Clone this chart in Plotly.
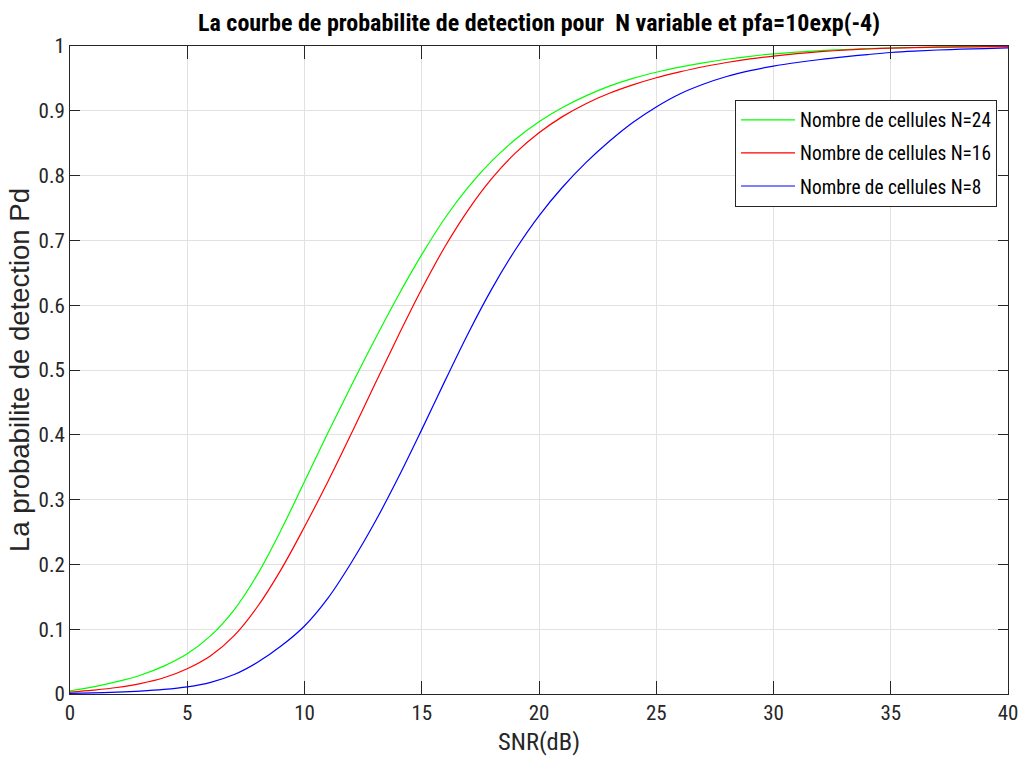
import plotly.graph_objects as go

snr_db = list(range(0, 41))

pd_n24 = [0.005, 0.011, 0.019, 0.029, 0.043, 0.062, 0.090, 0.130, 0.185, 0.253, 0.328,
          0.403, 0.476, 0.547, 0.615, 0.678, 0.735, 0.783, 0.823, 0.856, 0.883,
          0.905, 0.923, 0.938, 0.950, 0.9595, 0.9673, 0.9739, 0.9795, 0.9841, 0.9879,
          0.9907, 0.9929, 0.9946, 0.9959, 0.9969, 0.9977, 0.9983, 0.9987, 0.9990, 0.9992]

pd_n16 = [0.003, 0.006, 0.010, 0.016, 0.025, 0.039, 0.059, 0.090, 0.135, 0.192, 0.258,
          0.328, 0.402, 0.478, 0.553, 0.625, 0.691, 0.748, 0.796, 0.835, 0.866,
          0.891, 0.911, 0.927, 0.940, 0.951, 0.960, 0.968, 0.9745, 0.980, 0.9845,
          0.9882, 0.9912, 0.9936, 0.9954, 0.9967, 0.9976, 0.9982, 0.9986, 0.9989, 0.9991]

pd_n8 = [0.001, 0.0018, 0.0029, 0.0045, 0.007, 0.011, 0.018, 0.030, 0.049, 0.074, 0.105,
         0.148, 0.203, 0.265, 0.334, 0.408, 0.484, 0.558, 0.626, 0.686, 0.738,
         0.782, 0.820, 0.853, 0.882, 0.906, 0.926, 0.941, 0.953, 0.962, 0.969,
         0.9745, 0.9792, 0.9832, 0.9868, 0.9900, 0.9922, 0.9938, 0.9951, 0.9961, 0.9970]

series_names = ["Nombre de cellules N=24", "Nombre de cellules N=16", "Nombre de cellules N=8"]
series_values = [pd_n24, pd_n16, pd_n8]
series_colors = ["#00FF00", "#FF0000", "#0000FF"]

x_ticks = [0, 5, 10, 15, 20, 25, 30, 35, 40]
y_ticks = [0, 0.1, 0.2, 0.3, 0.4, 0.5, 0.6, 0.7, 0.8, 0.9, 1]
y_tick_labels = ["0", "0.1", "0.2", "0.3", "0.4", "0.5", "0.6", "0.7", "0.8", "0.9", "1"]

NARROW = "Liberation Sans Narrow, Arial Narrow, Roboto Condensed, sans-serif"
AXC = "#262626"
GRID = "#e1e1e1"

fig = go.Figure()
for i, (name, vals, col) in enumerate(zip(series_names, series_values, series_colors)):
    fig.add_trace(go.Scatter(
        x=snr_db, y=vals, mode="lines", name=name, legendgroup=f"g{i}",
        line=dict(color=col, width=1.2, shape="spline", smoothing=1.0),
    ))

fig.update_layout(
    width=1021, height=771,
    paper_bgcolor="white", plot_bgcolor="white",
    margin=dict(l=70, r=13, t=46, b=77, autoexpand=False),
    title=dict(
        text="<b>La courbe de probabilite de detection pour  N variable et pfa=10exp(-4)</b>",
        x=539 / 1021, xanchor="center", y=1 - 23 / 771, yanchor="middle",
        font=dict(family=NARROW, size=24, color="#000000"),
    ),
    showlegend=True,
    legend=dict(
        x=0.709, y=0.917, xanchor="left", yanchor="top",
        bgcolor="white", bordercolor=AXC, borderwidth=1,
        font=dict(family=NARROW, size=19.3, color="#000000"),
        tracegroupgap=5, itemwidth=54,
    ),
)

fig.update_xaxes(
    range=[0, 40], tickvals=x_ticks, ticktext=[str(v) for v in x_ticks],
    showgrid=True, gridcolor=GRID, gridwidth=1, zeroline=False, automargin=False,
    showline=True, linecolor=AXC, linewidth=1, mirror="ticks",
    ticks="inside", ticklen=13, tickcolor=AXC, tickwidth=1,
    tickfont=dict(family=NARROW, size=21, color=AXC),
    title=dict(text="SNR(dB)", font=dict(family=NARROW, size=24.5, color=AXC), standoff=8),
)
fig.update_yaxes(
    range=[0, 1], tickvals=y_ticks, ticktext=y_tick_labels,
    showgrid=True, gridcolor=GRID, gridwidth=1, zeroline=False, automargin=False,
    showline=True, linecolor=AXC, linewidth=1, mirror="ticks",
    ticks="inside", ticklen=10, tickcolor=AXC, tickwidth=1,
    tickfont=dict(family=NARROW, size=21, color=AXC),
    title=dict(text="La probabilite de detection Pd",
               font=dict(family="Liberation Sans, Arial, sans-serif", size=27.5, color=AXC),
               standoff=0),
)

fig.write_html("out.html", config={"displayModeBar": False},
               post_script="document.body.style.margin='0';document.body.style.padding='0';")
